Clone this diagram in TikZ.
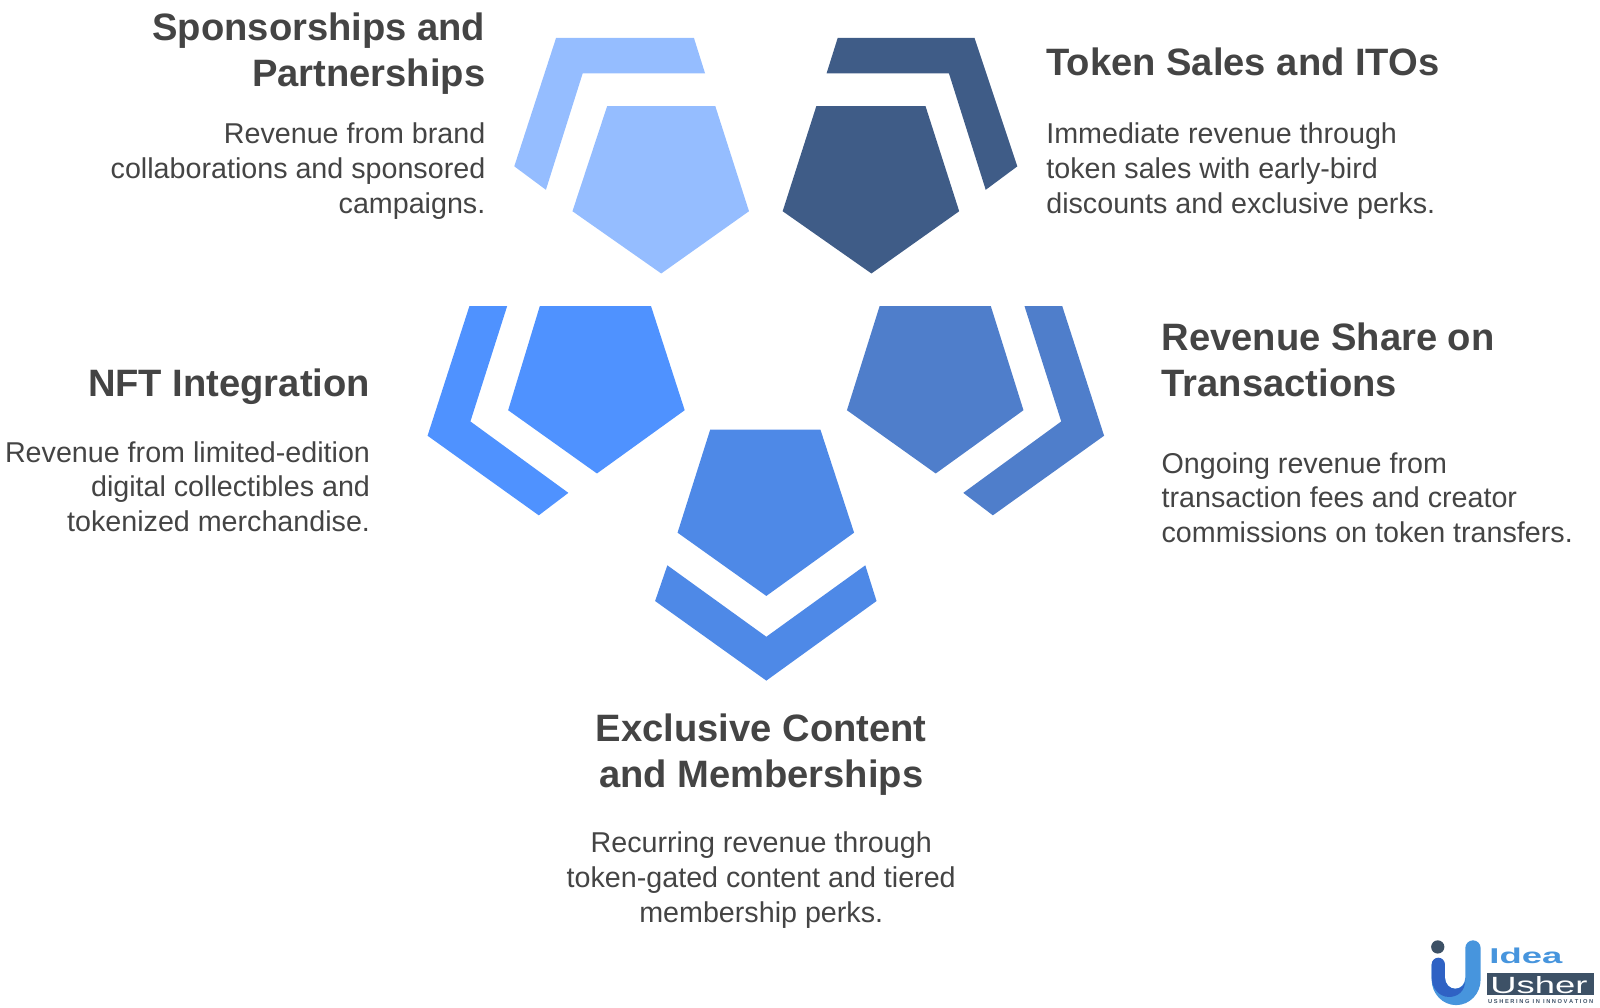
\documentclass[tikz,border=0pt]{standalone}
\usepackage{fontspec}
\setmainfont{Liberation Sans}
\usetikzlibrary{positioning}

\definecolor{inktext}{HTML}{444444}
\definecolor{sponsorblue}{HTML}{95BDFF}
\definecolor{tokenblue}{HTML}{3F5C87}
\definecolor{nftblue}{HTML}{4F92FF}
\definecolor{shareblue}{HTML}{4F7ECB}
\definecolor{memberblue}{HTML}{4E89E7}
\definecolor{logoslate}{HTML}{3D5166}
\definecolor{logosky}{HTML}{4795DD}
\definecolor{logoroyal}{HTML}{2F62C4}

\begin{document}
\begin{tikzpicture}[
  x=0.5pt, y=-0.5pt,
  heading/.style = {inner sep=0pt, text=inktext, font=\fontsize{18.7}{22.5}\selectfont\bfseries},
  blurb/.style = {inner sep=0pt, text=inktext, font=\fontsize{14.05}{17}\selectfont}
]

\useasboundingbox (0,0) rectangle (1568,987);

% Sponsorships (top left)
\fill[sponsorblue] (595,104) -- (701,104) -- (734,207) -- (648,268) -- (561,207) -- cycle;
\fill[sponsorblue] (545,37) -- (680,37) -- (691,72) -- (571,72) -- (535,186) -- (504,163) -- cycle;
\node[heading, anchor=north east, align=right] (sponsorhead) at (476,12) {Sponsorships and\\Partnerships};
\node[blurb, anchor=north east, align=right] (sponsortext) at (476,120)
  {Revenue from brand\\collaborations and sponsored\\campaigns.};

% Token sales (top right)
\fill[tokenblue] (800,104) -- (907,104) -- (940,207) -- (854,268) -- (767,207) -- cycle;
\fill[tokenblue] (821,37) -- (955,37) -- (997,163) -- (966,186) -- (930,72) -- (810,72) -- cycle;
\node[heading, anchor=north west, align=left] (tokenhead) at (1025,46) {Token Sales and ITOs};
\node[blurb, anchor=north west, align=left] (tokentext) at (1025,120)
  {Immediate revenue through\\token sales with early-bird\\discounts and exclusive perks.};

% NFT (middle left)
\fill[nftblue] (529,300) -- (638,300) -- (671,402) -- (585,464) -- (498,402) -- cycle;
\fill[nftblue] (460,300) -- (497,300) -- (461,413) -- (557,483) -- (528,505) -- (419,427) -- cycle;
\node[heading, anchor=north east, align=right] (nfthead) at (363,361) {NFT Integration};
\node[blurb, anchor=north east, align=right] (nfttext) at (363,432)
  {Revenue from limited-edition\\digital collectibles and\\tokenized merchandise.};

% Revenue share (middle right)
\fill[shareblue] (862,300) -- (971,300) -- (1003,402) -- (917,464) -- (830,402) -- cycle;
\fill[shareblue] (1004,300) -- (1041,300) -- (1082,427) -- (973,505) -- (944,483) -- (1040,413) -- cycle;
\node[heading, anchor=north west, align=left] (sharehead) at (1138,316) {Revenue Share on\\Transactions};
\node[blurb, anchor=north west, align=left] (sharetext) at (1138,443)
  {Ongoing revenue from\\transaction fees and creator\\commissions on token transfers.};

% Memberships (bottom)
\fill[memberblue] (696,421) -- (804,421) -- (837,522) -- (751,584) -- (664,522) -- cycle;
\fill[memberblue] (654,554) -- (751,624) -- (848,554) -- (859,589) -- (751,667) -- (642,589) -- cycle;
\node[heading, anchor=north, align=center] (memberhead) at (746,699) {Exclusive Content\\and Memberships};
\node[blurb, anchor=north, align=center] (membertext) at (746,815)
  {Recurring revenue through\\token-gated content and tiered\\membership perks.};

% Logo
\fill[logosky] (1436,929) arc[start angle=180, end angle=0, x radius=7.5, y radius=-7.5]
  -- (1451,960) arc[start angle=0, end angle=180, x radius=24, y radius=25] -- (1403,945)
  -- (1416,945) -- (1416,958) arc[start angle=180, end angle=0, x radius=10, y radius=11] -- cycle;
\fill[logoroyal] (1403,945) arc[start angle=180, end angle=0, x radius=6.5, y radius=-6.5]
  -- (1416,958) arc[start angle=180, end angle=90, x radius=10, y radius=11]
  .. controls (1432,969) and (1436,965) .. (1436,960)
  .. controls (1436,972) and (1428,977) .. (1420,977)
  .. controls (1410,977) and (1403,968) .. (1403,958) -- cycle;
\fill[logoslate] (1409,928) circle[radius=6.5];
\node[inner sep=0pt, anchor=west, text=logosky, font=\fontsize{10.5}{10.5}\selectfont\bfseries, xscale=1.7] (logoidea) at (1459,937) {Idea};
\fill[logoslate] (1457,954) rectangle (1562,975);
\node[inner sep=0pt, anchor=west, text=white, font=\fontsize{11.5}{11.5}\selectfont, xscale=1.55] (logousher) at (1460,965) {Usher};
\node[inner sep=0pt, anchor=west, text=logoslate, font=\fontsize{2.8}{3}\selectfont\bfseries] (logotag) at (1458,981) {U S H E R I N G\ \ I N\ \ I N N O V A T I O N};

\end{tikzpicture}
\end{document}
